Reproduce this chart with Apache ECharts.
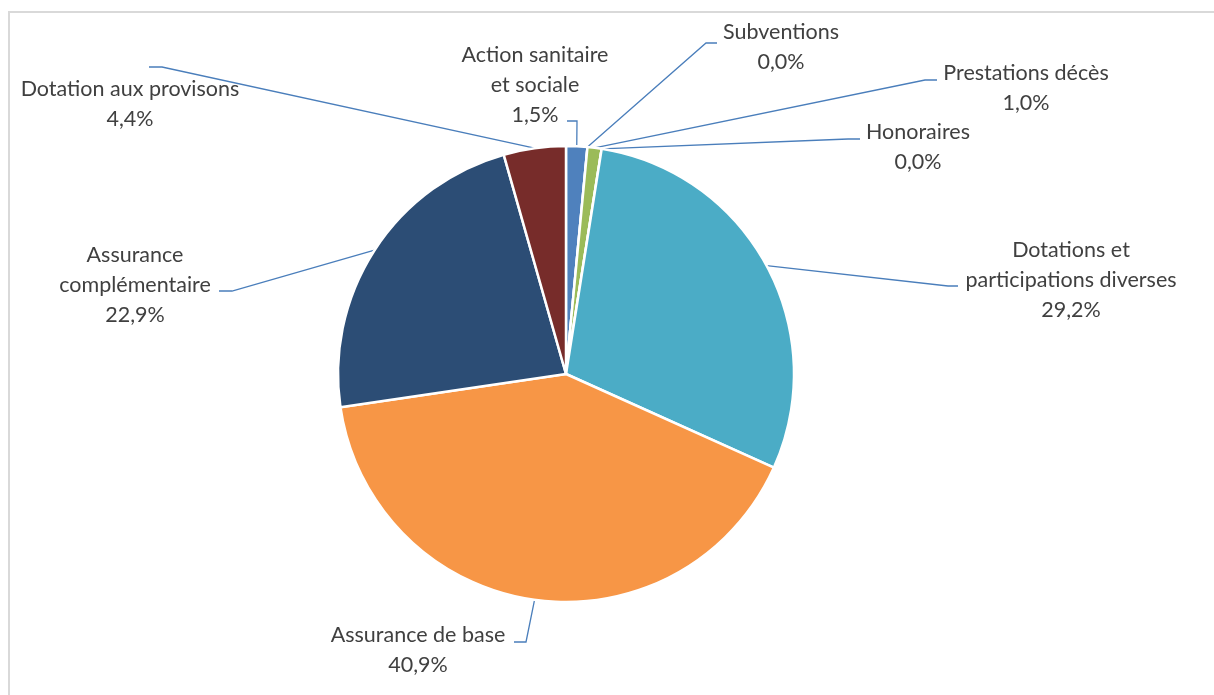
<!DOCTYPE html>
<html>
<head>
<meta charset="utf-8">
<script src="https://cdn.jsdelivr.net/npm/echarts@6/dist/echarts.min.js"></script>
<style>
  html, body { margin: 0; padding: 0; background: #fff; }
  #frame { position: absolute; left: 8px; top: 11px; width: 1220px; height: 700px;
           border-left: 2px solid #d9d9d9; border-top: 2px solid #d9d9d9; }
  #chart { position: absolute; left: 0; top: 0; width: 1214px; height: 695px; }
</style>
</head>
<body>
<div id="frame"></div>
<div id="chart"></div>
<script>
// ---- data ----
const categories = [
  'Action sanitaire\net sociale',
  'Subventions',
  'Prestations décès',
  'Honoraires',
  'Dotations et\nparticipations diverses',
  'Assurance de base',
  'Assurance\ncomplémentaire',
  'Dotation aux provisons'
];
const shares = [1.5, 0.0, 1.0, 0.0, 29.2, 40.9, 22.9, 4.4];
const colors = ['#4F81BD', '#C0504D', '#9BBB59', '#8064A2', '#4BACC6', '#F79646', '#2C4D75', '#772C2A'];

// label placement (text block centre, leader elbow, leader end)
const labelCentre = [[535, 85], [781, 47], [1026, 88], [918, 147], [1071, 280], [418, 650], [135, 285], [130, 104]];
const leaderElbow = [[577, 121], [706, 43], [925, 80], [848, 139], [948, 286], [526, 642], [232, 291], [162, 67]];
const leaderEnd   = [[567, 121], [717, 43], [937, 80], [860, 139], [958, 286], [514, 642], [219, 291], [149, 67]];

const chart = echarts.init(document.getElementById('chart'), null, { renderer: 'canvas' });
const fmt = v => v.toFixed(1).replace('.', ',') + '%';

chart.setOption({
  animation: false,
  color: colors,
  series: [{
    type: 'pie',
    center: [566, 374],
    radius: 228,
    startAngle: 90,
    clockwise: true,
    avoidLabelOverlap: false,
    minShowLabelAngle: 0,
    itemStyle: { borderColor: '#ffffff', borderWidth: 2.5 },
    data: categories.map((c, i) => ({ name: c, value: shares[i] })),
    label: {
      show: true,
      position: 'outside',
      formatter: p => p.name + '\n' + fmt(p.value),
      fontFamily: 'Lato, "Open Sans", sans-serif',
      fontSize: 21.5,
      lineHeight: 30,
      color: '#404040',
      align: 'center'
    },
    labelLine: { show: true, length: 10, length2: 10, lineStyle: { color: '#4A7EBB', width: 1.3 } },
    labelLayout: function (p) {
      const i = p.dataIndex;
      const res = {
        x: labelCentre[i][0], y: labelCentre[i][1],
        align: 'center', verticalAlign: 'middle'
      };
      if (p.labelLinePoints && p.labelLinePoints.length) {
        const a = p.labelLinePoints[0];
        res.labelLinePoints = [[a[0], a[1]], leaderElbow[i], leaderEnd[i]];
      }
      return res;
    }
  }]
});
</script>
</body>
</html>
